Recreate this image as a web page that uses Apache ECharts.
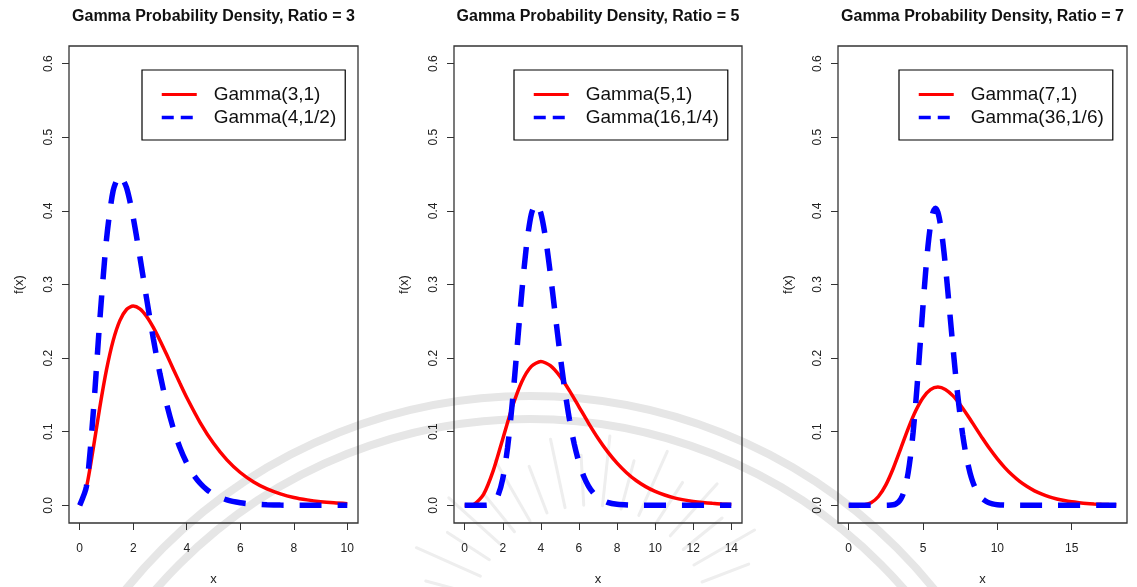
<!DOCTYPE html>
<html>
<head>
<meta charset="utf-8">
<script src="https://cdn.jsdelivr.net/npm/echarts@6/dist/echarts.min.js"></script>
<style>
html, body { margin: 0; padding: 0; background: #ffffff; }
#chart { width: 1137px; height: 587px; }
</style>
</head>
<body>
<div id="chart"></div>
<script>
// ---- Panel titles and series names ----
const panelTitles = [
  'Gamma Probability Density, Ratio = 3',
  'Gamma Probability Density, Ratio = 5',
  'Gamma Probability Density, Ratio = 7'
];
const redNames = ['Gamma(3,1)', 'Gamma(5,1)', 'Gamma(7,1)'];
const blueNames = ['Gamma(4,1/2)', 'Gamma(16,1/4)', 'Gamma(36,1/6)'];

// ---- Axis ticks ----
const yTicks = [0, 0.1, 0.2, 0.3, 0.4, 0.5, 0.6];
const yTickLabels = ['0.0', '0.1', '0.2', '0.3', '0.4', '0.5', '0.6'];
const xTicks1 = [0, 2, 4, 6, 8, 10];
const xTicks2 = [0, 2, 4, 6, 8, 10, 12, 14];
const xTicks3 = [0, 5, 10, 15];
const xMax = [10, 14, 18];

// ---- Panel 1: Gamma(3,1) and Gamma(4,1/2) densities ----
const xRed1 = [0, 0.25, 0.5, 0.75, 1, 1.25, 1.5, 1.75, 2, 2.25, 2.5, 2.75, 3, 3.25, 3.5, 3.75, 4,
  4.5, 5, 5.5, 6, 6.5, 7, 7.5, 8, 8.5, 9, 9.5, 10];
const yRed1 = [0, 0.0243, 0.0758, 0.1329, 0.1839, 0.2238, 0.2510, 0.2661, 0.2707, 0.2668, 0.2565, 0.2417,
  0.2240, 0.2048, 0.1850, 0.1654, 0.1465,
  0.1125, 0.0842, 0.0618, 0.0446, 0.0318, 0.0223, 0.0156, 0.0107, 0.0074, 0.0050, 0.0034, 0.0023];
const xBlue1 = [0, 0.25, 0.5, 0.75, 1, 1.25, 1.5, 1.75, 2, 2.25, 2.5, 2.75, 3, 3.25, 3.5, 3.75, 4,
  4.25, 4.5, 4.75, 5, 5.5, 6, 6.5, 7, 7.5, 8, 8.5, 9, 9.5, 10];
const yBlue1 = [0, 0.0253, 0.1226, 0.2510, 0.3609, 0.4275, 0.4481, 0.4316, 0.3908, 0.3374, 0.2808, 0.2267,
  0.1785, 0.1376, 0.1043, 0.0778, 0.0573, 0.0417, 0.0300, 0.0214, 0.0151,
  0.0074, 0.0035, 0.0017, 0.0008, 0.0003, 0.0002, 0.0001, 0, 0, 0];

// ---- Panel 2: Gamma(5,1) and Gamma(16,1/4) densities ----
const xRed2 = [0, 0.5, 1, 1.5, 2, 2.5, 3, 3.5, 4, 4.5, 5, 5.5, 6, 6.5, 7, 7.5, 8, 8.5, 9, 9.5, 10,
  10.5, 11, 11.5, 12, 12.5, 13, 13.5, 14];
const yRed2 = [0, 0.0016, 0.0153, 0.0471, 0.0902, 0.1336, 0.1680, 0.1888, 0.1954, 0.1898, 0.1755, 0.1558,
  0.1339, 0.1118, 0.0912, 0.0729, 0.0573, 0.0443, 0.0337, 0.0254, 0.0189,
  0.0140, 0.0102, 0.0074, 0.0053, 0.0038, 0.0027, 0.0019, 0.0013];
const xBlue2 = [0, 0.5, 1, 1.25, 1.5, 1.75, 2, 2.25, 2.5, 2.75, 3, 3.25, 3.5, 3.75, 4, 4.25, 4.5, 4.75,
  5, 5.25, 5.5, 5.75, 6, 6.25, 6.5, 6.75, 7, 7.5, 8, 9, 10, 11, 12, 13, 14];
const yBlue2 = [0, 0, 0.0001, 0.0006, 0.0036, 0.0132, 0.0361, 0.0777, 0.1389, 0.2134, 0.2896, 0.3539,
  0.3957, 0.4098, 0.3969, 0.3625, 0.3143, 0.2602, 0.2066, 0.1580, 0.1168, 0.0837, 0.0583, 0.0396,
  0.0262, 0.0170, 0.0108, 0.0041, 0.0015, 0.0002, 0, 0, 0, 0, 0];

// ---- Panel 3: Gamma(7,1) and Gamma(36,1/6) densities ----
const xRed3 = [0, 0.5, 1, 1.5, 2, 2.5, 3, 3.5, 4, 4.5, 5, 5.5, 6, 6.5, 7, 7.5, 8, 8.5, 9, 9.5, 10,
  10.5, 11, 11.5, 12, 12.5, 13, 13.5, 14, 14.5, 15, 15.5, 16, 16.5, 17, 17.5, 18];
const yRed3 = [0, 0.0000, 0.0005, 0.0035, 0.0120, 0.0278, 0.0504, 0.0771, 0.1042, 0.1281, 0.1462, 0.1571,
  0.1606, 0.1575, 0.1490, 0.1367, 0.1221, 0.1066, 0.0911, 0.0764, 0.0631,
  0.0513, 0.0411, 0.0325, 0.0255, 0.0197, 0.0152, 0.0115, 0.0087, 0.0065, 0.0048, 0.0036, 0.0026,
  0.0019, 0.0014, 0.0010, 0.0007];
const xBlue3 = [0, 1, 2, 2.3333, 2.6667, 3, 3.1667, 3.3333, 3.5, 3.6667, 3.8333, 4, 4.1667, 4.3333, 4.5,
  4.6667, 4.8333, 5, 5.1667, 5.3333, 5.5, 5.6667, 5.8333, 6, 6.1667, 6.3333, 6.5, 6.6667, 6.8333, 7,
  7.1667, 7.3333, 7.5, 7.6667, 7.8333, 8, 8.1667, 8.3333, 8.5, 8.6667, 8.8333, 9, 9.3333, 9.6667, 10,
  11, 12, 13, 14, 15, 16, 17, 18];
const yBlue3 = [0, 0, 0, 0.0000, 0.0001, 0.0008, 0.0019, 0.0041, 0.0084, 0.0156, 0.0273, 0.0445, 0.0683,
  0.0992, 0.1367, 0.1796, 0.2256, 0.2718, 0.3151, 0.3522, 0.3803, 0.3978, 0.4036, 0.3980, 0.3820,
  0.3574, 0.3264, 0.2912, 0.2542, 0.2174, 0.1822, 0.1499, 0.1211, 0.0961, 0.0751, 0.0577, 0.0437,
  0.0326, 0.0240, 0.0174, 0.0125, 0.0088, 0.0043, 0.0020, 0.0009, 0.0001, 0, 0, 0, 0, 0, 0, 0];

// ---- Drawing ----
const FONT = "'Liberation Sans', Arial, Helvetica, sans-serif";
const RED = '#ff0000';
const BLUE = '#0000ff';
const INK = '#222222';

const gridBoxes = [
  { left: 69, top: 46, width: 289, height: 477 },
  { left: 454, top: 46, width: 288, height: 477 },
  { left: 838, top: 46, width: 289, height: 477 }
];
const legendLeft = [142, 514, 899];
const xTicksAll = [xTicks1, xTicks2, xTicks3];
const redX = [xRed1, xRed2, xRed3], redY = [yRed1, yRed2, yRed3];
const blueX = [xBlue1, xBlue2, xBlue3], blueY = [yBlue1, yBlue2, yBlue3];

function pairs(xs, ys) { return xs.map((x, i) => [x, ys[i]]); }

const grids = [], xAxes = [], yAxes = [], series = [], legends = [], graphics = [];

for (let p = 0; p < 3; p++) {
  const g = gridBoxes[p];
  grids.push({ left: g.left, top: g.top, width: g.width, height: g.height,
    show: true, borderColor: '#333333', borderWidth: 1.3, backgroundColor: 'transparent',
    containLabel: false, outerBoundsMode: 'none' });

  const pad = xMax[p] * 0.04;
  xAxes.push({
    type: 'value', gridIndex: p, min: -pad, max: xMax[p] + pad, position: 'bottom',
    name: 'x', nameLocation: 'middle', nameGap: 50,
    nameTextStyle: { fontFamily: FONT, fontSize: 13, color: INK },
    axisLine: { show: false, onZero: false },
    splitLine: { show: false },
    axisTick: { show: true, length: 7, customValues: xTicksAll[p], lineStyle: { color: '#333333', width: 1 } },
    axisLabel: { show: true, customValues: xTicksAll[p], margin: 20, fontFamily: FONT, fontSize: 12, color: INK,
      formatter: v => String(v) }
  });
  yAxes.push({
    type: 'value', gridIndex: p, min: -0.024, max: 0.624, position: 'left',
    name: 'f(x)', nameLocation: 'middle', nameRotate: 90, nameGap: 43,
    nameTextStyle: { fontFamily: FONT, fontSize: 13, color: INK },
    axisLine: { show: false, onZero: false },
    splitLine: { show: false },
    axisTick: { show: true, length: 7, customValues: yTicks, lineStyle: { color: '#333333', width: 1 } },
    axisLabel: { show: true, customValues: yTicks, rotate: 90, margin: 14, fontFamily: FONT, fontSize: 12, color: INK,
      formatter: v => yTickLabels[yTicks.findIndex(t => Math.abs(t - v) < 1e-9)] }
  });

  series.push({
    type: 'line', name: redNames[p], xAxisIndex: p, yAxisIndex: p,
    data: pairs(redX[p], redY[p]), symbol: 'none', showSymbol: false, smooth: 0.25,
    lineStyle: { color: RED, width: 3.5 }, itemStyle: { color: RED }, z: 3
  });
  series.push({
    type: 'line', name: blueNames[p], xAxisIndex: p, yAxisIndex: p,
    data: pairs(blueX[p], blueY[p]), symbol: 'none', showSymbol: false, smooth: 0.25,
    lineStyle: { color: BLUE, width: 5.5, type: [22, 16], cap: 'butt' }, itemStyle: { color: BLUE }, z: 4
  });

  legends.push({
    orient: 'vertical', left: legendLeft[p], top: 70,
    padding: [15, 9, 13, 18], itemGap: 4, itemWidth: 35, itemHeight: 12,
    borderColor: '#000000', borderWidth: 1.2, backgroundColor: '#ffffff',
    selectedMode: false,
    textStyle: { fontFamily: FONT, fontSize: 19, color: '#111111', lineHeight: 19, padding: [0, 0, 0, 12] },
    data: [
      { name: redNames[p], lineStyle: { color: RED, width: 3, type: 'solid' },
        itemStyle: { color: 'rgba(0,0,0,0)', borderWidth: 0, opacity: 0 } },
      { name: blueNames[p], lineStyle: { color: BLUE, width: 3.5, type: [12, 7] },
        itemStyle: { color: 'rgba(0,0,0,0)', borderWidth: 0, opacity: 0 } }
    ]
  });

  graphics.push({
    type: 'text', x: g.left + g.width / 2, y: 17, z: 10,
    style: { text: panelTitles[p], align: 'center', verticalAlign: 'middle',
      font: 'bold 16px ' + FONT, fill: '#111111' }
  });
}

// Faint seal printed behind the plots: two concentric bands and a fan of rays
const seal = { cx: 530, cy: 915 };
[519, 496].forEach(r => {
  graphics.push({
    type: 'arc', z: -10, silent: true,
    shape: { cx: seal.cx, cy: seal.cy, r: r, startAngle: Math.PI, endAngle: 2 * Math.PI },
    style: { stroke: '#e6e6e6', lineWidth: 8, fill: null }
  });
});
const rayCenter = { x: 590, y: 625 };
for (let a = 195; a <= 345; a += 9) {
  const rad = a * Math.PI / 180;
  const r0 = 120, r1 = (a % 2 === 0) ? 190 : 170;
  graphics.push({
    type: 'line', z: -10, silent: true,
    shape: { x1: rayCenter.x + r0 * Math.cos(rad), y1: rayCenter.y + r0 * Math.sin(rad),
      x2: rayCenter.x + r1 * Math.cos(rad), y2: rayCenter.y + r1 * Math.sin(rad) },
    style: { stroke: '#eeeeee', lineWidth: 3, lineCap: 'round' }
  });
}

const chart = echarts.init(document.getElementById('chart'), null, { renderer: 'canvas' });
chart.setOption({
  animation: false,
  backgroundColor: '#ffffff',
  grid: grids,
  xAxis: xAxes,
  yAxis: yAxes,
  legend: legends,
  series: series,
  graphic: { elements: graphics }
});
</script>
</body>
</html>
